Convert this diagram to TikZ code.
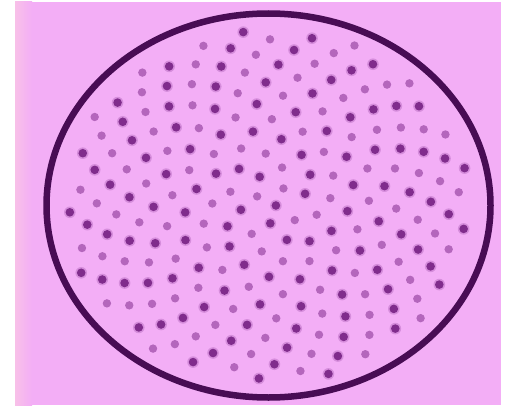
\documentclass[tikz,border=0pt]{standalone}
\definecolor{bgpink}{RGB}{243,174,246}
\definecolor{edgepink}{RGB}{248,192,232}
\definecolor{rimcol}{RGB}{72,12,84}
\definecolor{seedcol}{RGB}{128,44,140}
\begin{document}
\begin{tikzpicture}[x=1pt,y=1pt,
  rim/.style      = {draw=rimcol, line width=6.5pt},
  halo/.style     = {fill=seedcol!25!bgpink, draw=none},
  seeddark/.style = {fill=seedcol, draw=none},
  seedpale/.style = {fill=seedcol!55!bgpink, draw=none}
]

% ---- background ----
\fill[white] (0,0) rectangle (513,405);
\fill[bgpink] (15,0) rectangle (501,403);
\shade[left color=edgepink, right color=bgpink] (15,0) rectangle (32,403);

% ---- seeds, golden-angle spiral ----
\foreach \n in {0,...,224}{
  \pgfmathsetmacro\turn{\n*0.381966-floor(\n*0.381966)}
  \pgfmathsetmacro\ang{360*\turn}
  \pgfmathsetmacro\rad{13*sqrt(\n+0.3)}
  \pgfmathtruncatemacro\odd{mod(\n,2)}
  \ifnum\odd=0
    \fill[halo] ({268.5+1.04*\rad*cos(\ang)},{199.5+0.91*\rad*sin(\ang)}) circle (5.8);
    \fill[seeddark] ({268.5+1.04*\rad*cos(\ang)},{199.5+0.91*\rad*sin(\ang)}) circle (4.3);
  \else
    \fill[seedpale] ({268.5+1.04*\rad*cos(\ang)},{199.5+0.91*\rad*sin(\ang)}) circle (4.2);
  \fi
}

% ---- outer rim ----
\draw[rim] (268.5,199.5) ellipse [x radius=222, y radius=192];

\end{tikzpicture}
\end{document}
